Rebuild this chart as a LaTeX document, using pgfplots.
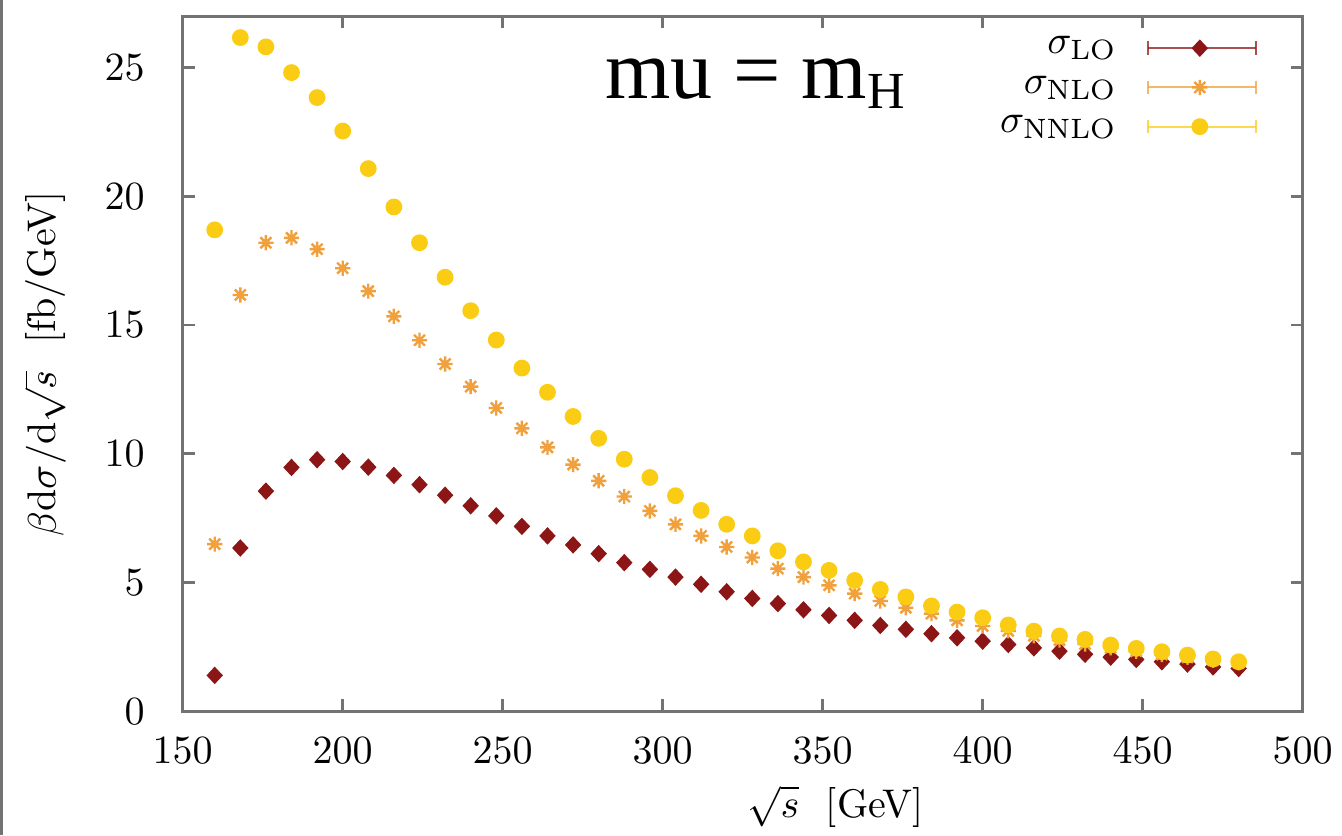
\documentclass[border=0pt]{standalone}
\usepackage{fontspec}
\usepackage{pgfplots}
\pgfplotsset{compat=1.18}
\newfontfamily\timesfont{Liberation Serif}

\definecolor{loRed}{RGB}{140,22,22}
\definecolor{nloOrange}{RGB}{240,160,60}
\definecolor{nnloGold}{RGB}{250,205,20}
\definecolor{frameGray}{RGB}{115,115,115}

% gnuplot-style asterisk: a plus and a cross on top of each other
\pgfdeclareplotmark{plusx}{%
  \pgfpathmoveto{\pgfqpoint{-\pgfplotmarksize}{0pt}}%
  \pgfpathlineto{\pgfqpoint{\pgfplotmarksize}{0pt}}%
  \pgfpathmoveto{\pgfqpoint{0pt}{-\pgfplotmarksize}}%
  \pgfpathlineto{\pgfqpoint{0pt}{\pgfplotmarksize}}%
  \pgfpathmoveto{\pgfqpoint{-.72\pgfplotmarksize}{-.72\pgfplotmarksize}}%
  \pgfpathlineto{\pgfqpoint{.72\pgfplotmarksize}{.72\pgfplotmarksize}}%
  \pgfpathmoveto{\pgfqpoint{-.72\pgfplotmarksize}{.72\pgfplotmarksize}}%
  \pgfpathlineto{\pgfqpoint{.72\pgfplotmarksize}{-.72\pgfplotmarksize}}%
  \pgfusepathqstroke
}

\begin{document}
\begin{tikzpicture}
\begin{axis}[
  scale only axis,
  width=280pt, height=173.75pt,
  xmin=150, xmax=500, ymin=0, ymax=27,
  xtick={150,200,...,500}, ytick={0,5,...,25},
  tick align=inside, major tick length=3pt,
  axis line style={frameGray, line width=0.7pt},
  every tick/.style={frameGray, line width=0.7pt},
  xticklabel style={yshift=-3pt},
  yticklabel style={xshift=-6pt},
  xlabel={$\sqrt{s}$~~[GeV]},
  ylabel={$\beta\mathrm{d}\sigma/\mathrm{d}\sqrt{s}$~~[fb/GeV]},
  xlabel style={at={(axis description cs:0.583,-0.137)}, anchor=center},
  ylabel style={at={(axis description cs:-0.123,0.5)}, anchor=center},
  legend style={draw=none, fill=none, at={(0.9705,0.992)}, anchor=north east,
    row sep=1pt, nodes={inner sep=1.5pt}},
  legend cell align=right,
  legend plot pos=right,
  legend image code/.code={%
    \path (0pt,0pt);
    \draw[#1, draw opacity=0.75, line width=0.5pt] (6pt,0pt) -- (33pt,0pt);
    \draw[#1, draw opacity=0.75, line width=0.5pt] (6pt,-1.7pt) -- (6pt,1.7pt) (33pt,-1.7pt) -- (33pt,1.7pt);
    \draw[#1] plot coordinates {(19pt,0pt)};
  },
]
% leading-order points
\addplot[only marks, mark=diamond*, mark size=1.9pt, mark options={xscale=1.25}, color=loRed] table {
x y
160 1.39
168 6.34
176 8.55
184 9.47
192 9.77
200 9.70
208 9.48
216 9.16
224 8.80
232 8.39
240 7.98
248 7.59
256 7.18
264 6.81
272 6.46
280 6.12
288 5.77
296 5.51
304 5.21
312 4.93
320 4.64
328 4.38
336 4.18
344 3.94
352 3.72
360 3.53
368 3.33
376 3.18
384 3.01
392 2.85
400 2.72
408 2.59
416 2.46
424 2.33
432 2.21
440 2.10
448 2.01
456 1.92
464 1.83
472 1.72
480 1.66
};
\addlegendentry{$\sigma_{\mathrm{LO}}$}

% next-to-leading order
\addplot[only marks, mark=plusx, mark size=1.9pt, line width=0.6pt, color=nloOrange] table {
x y
160 6.49
168 16.17
176 18.20
184 18.39
192 17.95
200 17.21
208 16.32
216 15.34
224 14.41
232 13.49
240 12.61
248 11.78
256 10.99
264 10.25
272 9.58
280 8.95
288 8.34
296 7.78
304 7.26
312 6.81
320 6.38
328 5.97
336 5.54
344 5.21
352 4.89
360 4.57
368 4.28
376 4.02
384 3.79
392 3.53
400 3.31
408 3.12
416 2.93
424 2.76
432 2.61
440 2.46
448 2.33
456 2.20
464 2.09
472 1.98
480 1.88
};
\addlegendentry{$\sigma_{\mathrm{NLO}}$}

% next-to-next-to-leading order
\addplot[only marks, mark=*, mark size=1.9pt, color=nnloGold] table {
x y
160 18.70
168 26.17
176 25.81
184 24.81
192 23.84
200 22.54
208 21.08
216 19.59
224 18.20
232 16.86
240 15.56
248 14.42
256 13.33
264 12.39
272 11.45
280 10.60
288 9.79
296 9.08
304 8.37
312 7.80
320 7.26
328 6.81
336 6.23
344 5.80
352 5.47
360 5.08
368 4.73
376 4.44
384 4.09
392 3.85
400 3.63
408 3.35
416 3.11
424 2.92
432 2.79
440 2.57
448 2.44
456 2.31
464 2.18
472 2.03
480 1.92
};
\addlegendentry{$\sigma_{\mathrm{NNLO}}$}

\node[anchor=base, inner sep=0pt, font=\timesfont\fontsize{21}{21}\selectfont]
  at (axis cs:328.8,23.8) {mu = m\raisebox{-0.12em}{\fontsize{13}{13}\selectfont H}};

\coordinate (bl) at (axis cs:92.9,-4.82);
\coordinate (tr) at (axis cs:512.3,27.63);
\end{axis}
\pgfresetboundingbox
\useasboundingbox (bl) rectangle (tr);
\draw[frameGray, line width=0.6pt] ([xshift=0.4pt]bl) -- ([xshift=0.4pt]bl |- tr);
\end{tikzpicture}
\end{document}
